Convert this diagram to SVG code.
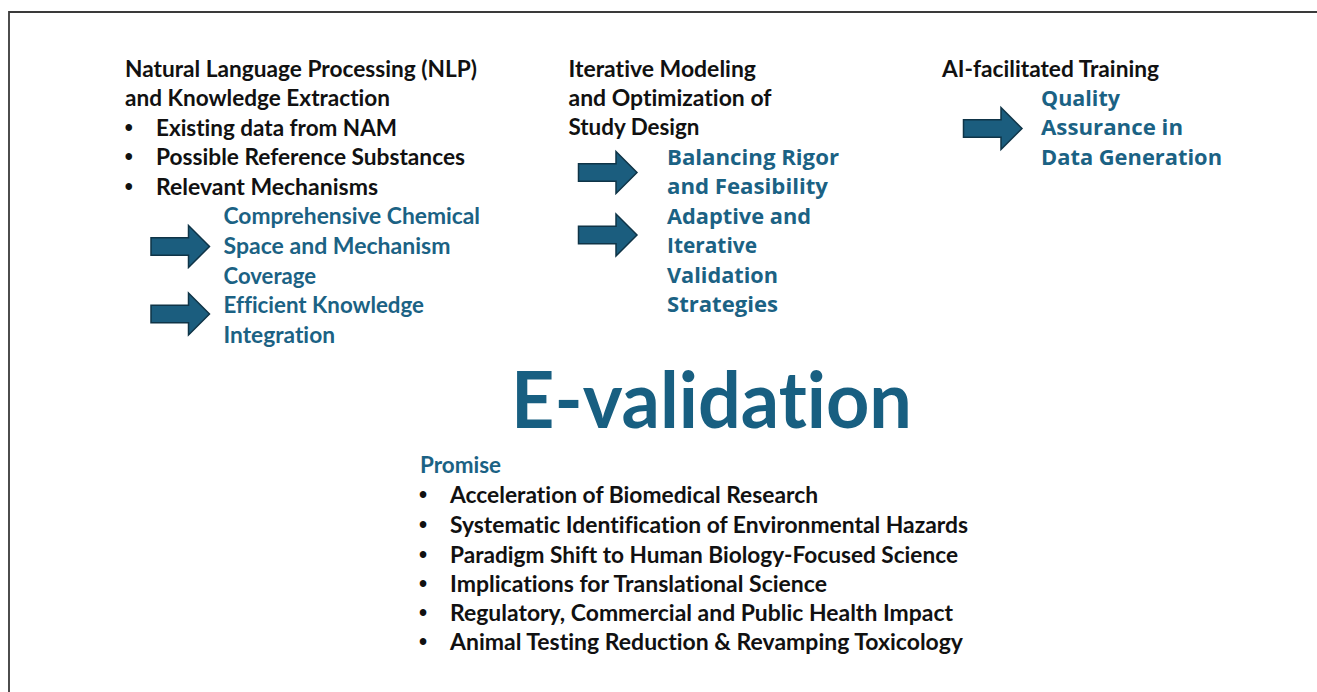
<svg xmlns="http://www.w3.org/2000/svg" width="1317" height="692" viewBox="0 0 1317 692">
  <style>
    text { font-variant-ligatures: none; font-feature-settings: "liga" 0, "clig" 0; }
    .blk { font-family: Lato, "Liberation Sans", sans-serif; font-weight: 700; font-size: 22px; fill: #111111; }
    .cal { font-family: Lato, "Liberation Sans", sans-serif; font-weight: 700; font-size: 22px; fill: #1b6284; }
    .apt { font-family: "Open Sans", "Liberation Sans", sans-serif; font-weight: 700; font-size: 21px; fill: #1b6284; }
    .title { font-family: Lato, "Liberation Sans", sans-serif; font-weight: 700; font-size: 78px; fill: #185f81; }
    .dot { font-family: "Liberation Sans", Arial, sans-serif; font-weight: 700; font-size: 23px; fill: #111111; text-anchor: middle; }
    .frame { fill: none; stroke: #3a3a3a; stroke-width: 1.8; }
    .arrow { fill: #1b5d7e; stroke: #0f3447; stroke-width: 1.5; stroke-linejoin: miter; }
  </style>
  <defs>
    <!-- block arrow, origin at left end of the shaft, centred vertically -->
    <path id="blockArrow" class="arrow" d="M0,-8.75 H37.5 V-21 L58.5,0 L37.5,21 V8.75 H0 Z"/>
  </defs>

  <rect width="1317" height="692" fill="#ffffff"/>
  <polyline class="frame" points="9,692 9,12 1317,12"/>

  <!-- NLP column -->
  <g id="nlp">
    <text class="blk" x="125" y="77" textLength="352" lengthAdjust="spacingAndGlyphs">Natural Language Processing (NLP)</text>
    <text class="blk" x="125" y="106" textLength="265" lengthAdjust="spacingAndGlyphs">and Knowledge Extraction</text>
    <text class="dot" x="128.7" y="135.5">•</text>
    <text class="blk" x="156" y="136" textLength="241" lengthAdjust="spacingAndGlyphs">Existing data from NAM</text>
    <text class="dot" x="128.7" y="164.5">•</text>
    <text class="blk" x="156" y="165" textLength="309" lengthAdjust="spacingAndGlyphs">Possible Reference Substances</text>
    <text class="dot" x="128.7" y="194.5">•</text>
    <text class="blk" x="156" y="195" textLength="222" lengthAdjust="spacingAndGlyphs">Relevant Mechanisms</text>
  </g>
  <g id="coverage">
    <text class="cal" x="223.5" y="224" textLength="256.5" lengthAdjust="spacingAndGlyphs">Comprehensive Chemical</text>
    <text class="cal" x="223.5" y="254" textLength="227" lengthAdjust="spacingAndGlyphs">Space and Mechanism</text>
    <text class="cal" x="223.5" y="283.5" textLength="92.5" lengthAdjust="spacingAndGlyphs">Coverage</text>
  </g>
  <g id="integration">
    <text class="cal" x="223.5" y="313" textLength="200.5" lengthAdjust="spacingAndGlyphs">Efficient Knowledge</text>
    <text class="cal" x="223.5" y="342.5" textLength="111.5" lengthAdjust="spacingAndGlyphs">Integration</text>
  </g>

  <!-- Study design column -->
  <g id="modeling">
    <text class="blk" x="568.5" y="77" textLength="187.5" lengthAdjust="spacingAndGlyphs">Iterative Modeling</text>
    <text class="blk" x="568.5" y="106" textLength="203" lengthAdjust="spacingAndGlyphs">and Optimization of</text>
    <text class="blk" x="568.5" y="135" textLength="131" lengthAdjust="spacingAndGlyphs">Study Design</text>
  </g>
  <g id="rigor">
    <text class="apt" x="667" y="165" textLength="172" lengthAdjust="spacingAndGlyphs">Balancing Rigor</text>
    <text class="apt" x="667" y="194" textLength="161" lengthAdjust="spacingAndGlyphs">and Feasibility</text>
  </g>
  <g id="adaptive">
    <text class="apt" x="667" y="224" textLength="144" lengthAdjust="spacingAndGlyphs">Adaptive and</text>
    <text class="apt" x="667" y="253" textLength="90" lengthAdjust="spacingAndGlyphs">Iterative</text>
    <text class="apt" x="667" y="283" textLength="111" lengthAdjust="spacingAndGlyphs">Validation</text>
    <text class="apt" x="667" y="312" textLength="111" lengthAdjust="spacingAndGlyphs">Strategies</text>
  </g>

  <!-- Training column -->
  <g id="training">
    <text class="blk" x="942" y="77" textLength="217" lengthAdjust="spacingAndGlyphs">AI-facilitated Training</text>
  </g>
  <g id="quality">
    <text class="apt" x="1041" y="106" textLength="79" lengthAdjust="spacingAndGlyphs">Quality</text>
    <text class="apt" x="1041" y="135" textLength="142" lengthAdjust="spacingAndGlyphs">Assurance in</text>
    <text class="apt" x="1041" y="164.5" textLength="181" lengthAdjust="spacingAndGlyphs">Data Generation</text>
  </g>

  <!-- arrows -->
  <g id="connectors">
    <use href="#blockArrow" x="151" y="246.5"/>
    <use href="#blockArrow" x="151" y="314"/>
    <use href="#blockArrow" x="578.5" y="172.5"/>
    <use href="#blockArrow" x="578.5" y="235"/>
    <use href="#blockArrow" x="963.5" y="128.5"/>
  </g>

  <!-- central title -->
  <g id="evalidation">
    <text class="title" x="511" y="428" textLength="401" lengthAdjust="spacingAndGlyphs">E-validation</text>
  </g>

  <!-- promise list -->
  <g id="promise">
    <text class="cal" x="420" y="473" textLength="81" lengthAdjust="spacingAndGlyphs">Promise</text>
    <text class="dot" x="423" y="502.5">•</text>
    <text class="blk" x="450" y="503" textLength="368" lengthAdjust="spacingAndGlyphs">Acceleration of Biomedical Research</text>
    <text class="dot" x="423" y="532.5">•</text>
    <text class="blk" x="450" y="533" textLength="518" lengthAdjust="spacingAndGlyphs">Systematic Identification of Environmental Hazards</text>
    <text class="dot" x="423" y="562.5">•</text>
    <text class="blk" x="450" y="563" textLength="508" lengthAdjust="spacingAndGlyphs">Paradigm Shift to Human Biology-Focused Science</text>
    <text class="dot" x="423" y="591.5">•</text>
    <text class="blk" x="450" y="592" textLength="377" lengthAdjust="spacingAndGlyphs">Implications for Translational Science</text>
    <text class="dot" x="423" y="620.5">•</text>
    <text class="blk" x="450" y="621" textLength="503" lengthAdjust="spacingAndGlyphs">Regulatory, Commercial and Public Health Impact</text>
    <text class="dot" x="423" y="649.5">•</text>
    <text class="blk" x="450" y="650" textLength="513" lengthAdjust="spacingAndGlyphs">Animal Testing Reduction &amp; Revamping Toxicology</text>
  </g>
</svg>
